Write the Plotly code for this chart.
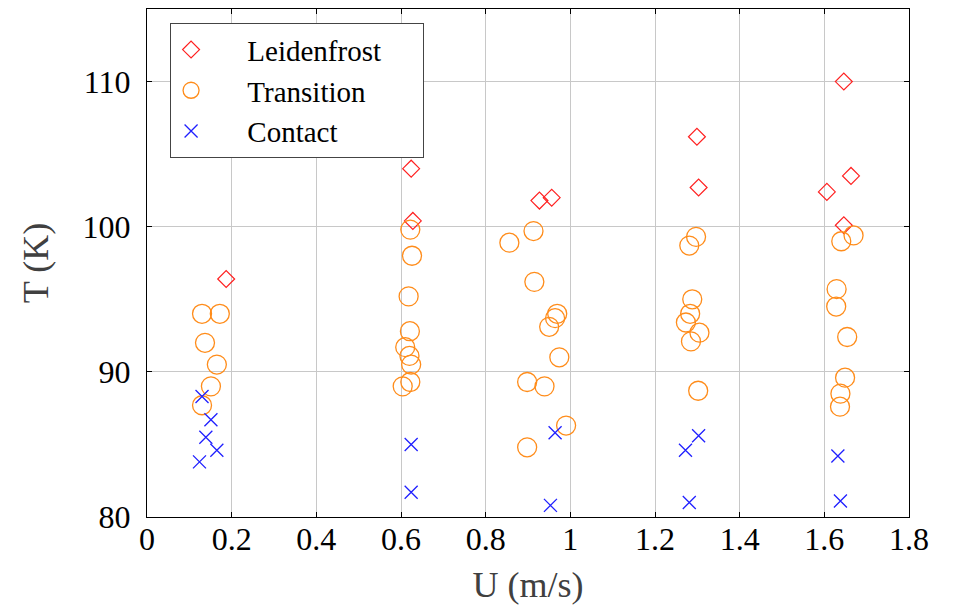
import plotly.graph_objects as go

# Leidenfrost regime
leid_U = [0.187, 0.624, 0.628, 0.927, 0.956, 1.299, 1.303, 1.646, 1.663, 1.606, 1.646]
leid_T = [96.4, 104.0, 100.4, 101.8, 102.0, 106.2, 102.7, 110.0, 103.5, 102.4, 100.1]

# Transition regime
trans_U = [0.130, 0.172, 0.137, 0.165, 0.151, 0.130,
           0.622, 0.626, 0.618, 0.621, 0.610, 0.620, 0.624, 0.622, 0.604,
           0.913, 0.856, 0.915, 0.969, 0.964, 0.950, 0.974, 0.898, 0.939, 0.990, 0.898,
           1.297, 1.281, 1.288, 1.283, 1.273, 1.305, 1.285, 1.302,
           1.669, 1.640, 1.629, 1.628, 1.654, 1.649, 1.638, 1.637]
trans_T = [94.0, 94.0, 92.0, 90.5, 89.0, 87.7,
           99.8, 98.0, 95.2, 92.8, 91.7, 91.1, 90.5, 89.3, 89.0,
           99.7, 98.9, 96.2, 94.0, 93.7, 93.1, 91.0, 89.3, 89.0, 86.3, 84.8,
           99.3, 98.7, 95.0, 94.0, 93.4, 92.7, 92.1, 88.7,
           99.4, 99.0, 95.7, 94.5, 92.4, 89.6, 88.5, 87.6]

# Contact regime
cont_U = [0.130, 0.151, 0.139, 0.165, 0.124,
          0.624, 0.624,
          0.964, 0.953,
          1.303, 1.272, 1.281,
          1.632, 1.638]
cont_T = [88.3, 86.7, 85.5, 84.6, 83.8,
          85.0, 81.7,
          85.8, 80.8,
          85.6, 84.6, 81.0,
          84.2, 81.1]

series_names = ["Leidenfrost", "Transition", "Contact"]
x_ticks = [0, 0.2, 0.4, 0.6, 0.8, 1.0, 1.2, 1.4, 1.6, 1.8]
x_tick_labels = ["0", "0.2", "0.4", "0.6", "0.8", "1", "1.2", "1.4", "1.6", "1.8"]
y_ticks = [80, 90, 100, 110]

FONT = "Liberation Serif"
PAD = "\u00a0" * 5      # gap between legend symbol and label
PAD_R = "\u00a0" * 5    # extra room on the right of the legend box

fig = go.Figure()
fig.add_trace(go.Scatter(
    x=leid_U, y=leid_T, mode="markers", name=PAD + series_names[0] + PAD_R,
    marker=dict(symbol="diamond-open", size=13, color="#ff2020",
                line=dict(width=1.2, color="#ff2020"))))
fig.add_trace(go.Scatter(
    x=trans_U, y=trans_T, mode="markers", name=PAD + series_names[1],
    marker=dict(symbol="circle-open", size=19, color="#ff8c1a",
                line=dict(width=1.3, color="#ff8c1a"))))
fig.add_trace(go.Scatter(
    x=cont_U, y=cont_T, mode="markers", name=PAD + series_names[2],
    marker=dict(symbol="x-thin-open", size=13, color="#2020ff",
                line=dict(width=1.3, color="#2020ff"))))

axis_common = dict(
    showgrid=True, gridcolor="#c8c8c8", gridwidth=1,
    showline=True, linecolor="black", linewidth=1.2, mirror="ticks",
    ticks="inside", ticklen=5, tickcolor="black",
    zeroline=False,
    tickfont=dict(family=FONT, size=32, color="black"),
)

fig.update_layout(
    width=953, height=610,
    margin=dict(l=139, r=52, t=1, b=101),
    paper_bgcolor="white", plot_bgcolor="white",
    xaxis=dict(range=[0, 1.8], tickvals=x_ticks, ticktext=x_tick_labels,
               ticklabelstandoff=-7,
               title=dict(text="U (m/s)", font=dict(family=FONT, size=36, color="#404040"), standoff=16),
               **axis_common),
    yaxis=dict(range=[80, 115], tickvals=y_ticks, ticklabelstandoff=9,
               title=dict(text="T (K)", font=dict(family=FONT, size=36, color="#404040"), standoff=22),
               **axis_common),
    legend=dict(x=0.030, y=0.9724, xanchor="left", yanchor="top",
                bordercolor="#444", borderwidth=1.2, bgcolor="white",
                font=dict(family=FONT, size=29, color="black"),
                itemwidth=30, tracegroupgap=0),
    showlegend=True,
)

fig.write_html("out.html")
